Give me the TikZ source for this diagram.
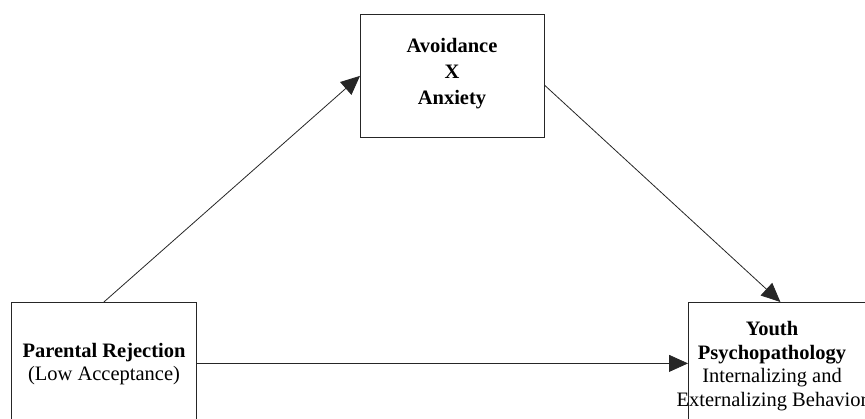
\documentclass[tikz,border=0pt]{standalone}
\usepackage{fontspec}
\setmainfont{Liberation Serif}
\usetikzlibrary{arrows.meta,calc}
\begin{document}
\begin{tikzpicture}[x=1pt,y=-1pt,
  box/.style={draw=black!85,line width=0.8pt,rectangle,inner sep=0pt,anchor=north west},
  boxtext/.style={align=center,inner sep=0pt,font=\fontsize{20.5}{23.5}\selectfont},
  link/.style={draw=black!85,line width=0.8pt,-{Triangle[length=19pt,width=17pt]}}]
  \useasboundingbox (0,0) rectangle (865,419);
  % the three boxes (the lower two run past the page edge)
  \node[box,minimum width=185pt,minimum height=122pt] (prbox) at (11,302) {};
  \node[box,minimum width=184pt,minimum height=123pt] (axbox) at (360,14) {};
  \node[box,minimum width=184pt,minimum height=122pt] (ypbox) at (688,302) {};
  % box texts
  \node[boxtext] (prtext) at (104,364) {\textbf{Parental Rejection}\\(Low Acceptance)};
  \node[boxtext,font=\fontsize{20.5}{26}\selectfont] (axtext) at (452,74) {\textbf{Avoidance}\\\textbf{X}\\\textbf{Anxiety}};
  \node[boxtext] (yptext) at (772,366) {\textbf{Youth}\\\textbf{Psychopathology}\\Internalizing and\\Externalizing Behavior};
  % paths between the boxes
  \draw[link] (prbox.north) -- (axbox.west);
  \draw[link] ($(axbox.east)+(0,9.5)$) -- (ypbox.north);
  \draw[link] (prbox.east) -- (ypbox.west);
\end{tikzpicture}
\end{document}
